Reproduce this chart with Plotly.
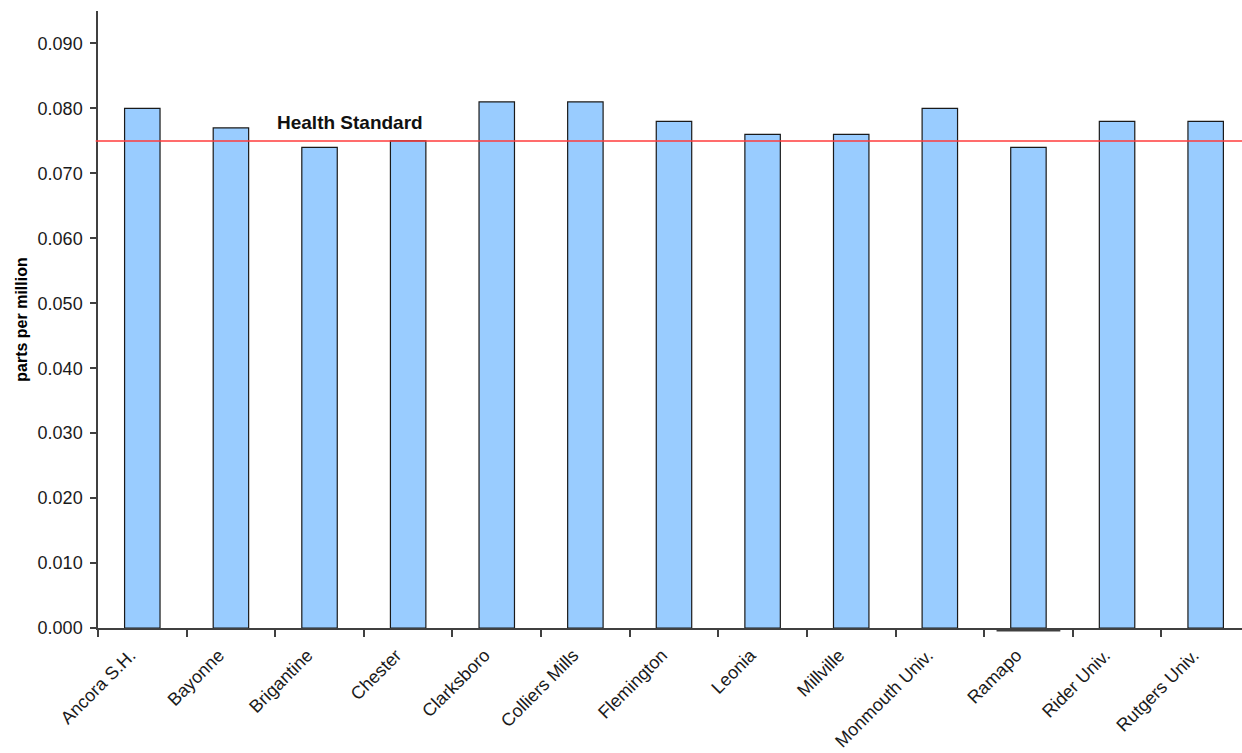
import plotly.graph_objects as go

sites = ["Ancora S.H.", "Bayonne", "Brigantine", "Chester", "Clarksboro", "Colliers Mills",
         "Flemington", "Leonia", "Millville", "Monmouth Univ.", "Ramapo", "Rider Univ.", "Rutgers Univ."]
ozone_ppm = [0.080, 0.077, 0.074, 0.075, 0.081, 0.081, 0.078, 0.076, 0.076, 0.080, 0.074, 0.078, 0.078]
health_standard = 0.075
y_ticks = [0.000, 0.010, 0.020, 0.030, 0.040, 0.050, 0.060, 0.070, 0.080, 0.090]
y_tick_labels = ["%.3f" % v for v in y_ticks]

FONT = "Liberation Sans, Arial"

fig = go.Figure()
fig.add_trace(go.Bar(
    x=list(range(len(sites))), y=ozone_ppm, width=0.4,
    marker=dict(color="#99CCFF", line=dict(color="#1a1a1a", width=1.2)),
))

fig.add_shape(type="line", xref="paper", yref="y", x0=-0.002, x1=1, y0=health_standard, y1=health_standard,
              line=dict(color="#FF3B3B", width=1.5))
# small stray line under Ramapo bar (as in the original)
fig.add_shape(type="line", xref="x", yref="paper", x0=10 - 0.36, x1=10 + 0.36, y0=-0.0045, y1=-0.0045,
              line=dict(color="#404040", width=1.5))

fig.add_annotation(x=2.34, y=0.0778, xref="x", yref="y", text="<b>Health Standard</b>", showarrow=False,
                   font=dict(family=FONT, size=19, color="#111"), yanchor="middle")

fig.update_layout(
    width=1242, height=753,
    margin=dict(l=98, r=0, t=11, b=125),
    plot_bgcolor="white", paper_bgcolor="white",
    showlegend=False,
    font=dict(family=FONT, size=17, color="#1a1a1a"),
)
fig.update_xaxes(
    type="linear",
    range=[-0.5, 12.41], tickmode="array", tickvals=list(range(len(sites))), ticktext=sites,
    tickangle=-45, showline=True, linecolor="#404040", linewidth=1.5,
    ticks="", showgrid=False, zeroline=False, tickfont=dict(size=18, color="#1a1a1a"),
    ticklabelstandoff=8, ticklabelshift=-12,
    minor=dict(tickmode="linear", tick0=-0.5, dtick=1, ticks="outside", ticklen=7,
               tickcolor="#404040", tickwidth=1.5, showgrid=False),
)
fig.update_yaxes(
    range=[0, 0.095], tickmode="array", tickvals=y_ticks, ticktext=y_tick_labels,
    showline=True, linecolor="#404040", linewidth=1.5,
    ticks="outside", ticklen=6, tickcolor="#404040", tickwidth=1.5,
    showgrid=False, zeroline=False, tickfont=dict(size=18, color="#1a1a1a"),
    ticklabelstandoff=4,
    title=dict(text="<b>parts per million</b>", font=dict(size=16, color="#000"), standoff=6),
)

fig.write_html("out.html")
